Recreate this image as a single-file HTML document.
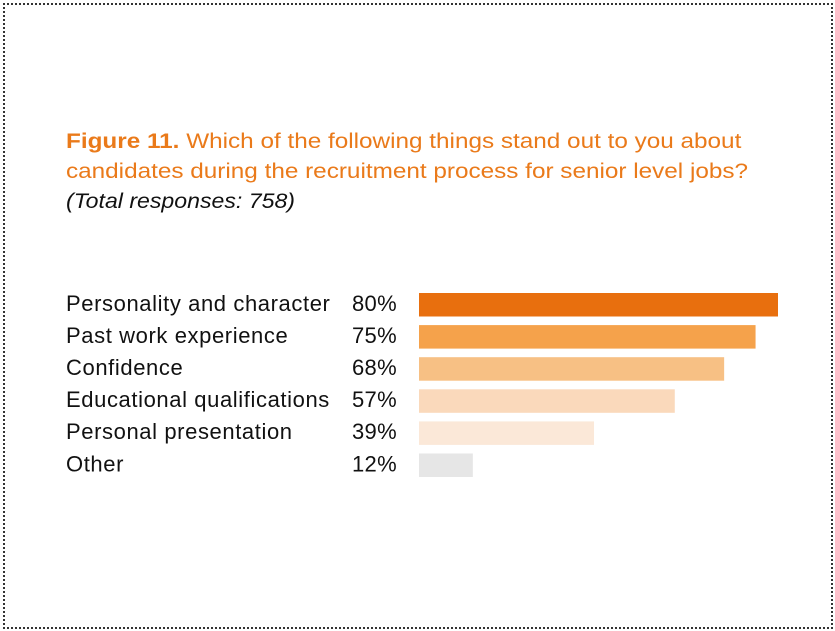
<!DOCTYPE html>
<html><head><meta charset="utf-8"><style>
body{margin:0;width:835px;height:631px;background:#fff;font-family:"Liberation Sans",sans-serif;overflow:hidden}
#frame{position:absolute;left:3px;top:3px;width:826px;height:622px;border:2px dotted #333}
.t{position:absolute;left:66px;font-size:21px;color:#ea7a1a;line-height:30px;transform-origin:0 0;transform:scaleX(1.157);white-space:nowrap}
</style></head><body>
<div id="frame"></div>
<div class="t" style="top:127px"><b>Figure 11.</b> Which of the following things stand out to you about<br>candidates during the recruitment process for senior level jobs?</div>
<div class="t" style="top:187px;color:#111;font-style:italic;transform:scaleX(1.1)">(Total responses: 758)</div>
<svg id="chart" width="835" height="631" style="position:absolute;left:0;top:0"></svg>
<script>
const categories=["Personality and character","Past work experience","Confidence","Educational qualifications","Personal presentation","Other"];
const values=[80,75,68,57,39,12];
const valueLabels=["80%","75%","68%","57%","39%","12%"];
const colors=["#e86f0e","#f5a24b","#f7c084","#fad9bb","#fbe8d8","#e6e6e6"];
const svg=document.getElementById('chart');const NS="http://www.w3.org/2000/svg";
const x0=419,scale=359/80,top0=293,pitch=32.1,bh=23.5;
const xs=v=>v*scale, ys=i=>top0+i*pitch;
categories.forEach((c,i)=>{
 const y=ys(i);
 const r=document.createElementNS(NS,'rect');
 r.setAttribute('x',x0);r.setAttribute('y',y);r.setAttribute('width',xs(values[i]));r.setAttribute('height',bh);r.setAttribute('fill',colors[i]);
 
 
 svg.appendChild(r);
 const t=document.createElementNS(NS,'text');
 t.setAttribute('x',66);t.setAttribute('y',y+bh/2+6);t.setAttribute('font-size','22');t.setAttribute('letter-spacing','0.6');t.setAttribute('fill','#111');t.textContent=c;
 
 
 svg.appendChild(t);
 const p=document.createElementNS(NS,'text');
 p.setAttribute('x',352);p.setAttribute('y',y+bh/2+6);p.setAttribute('font-size','22');p.setAttribute('letter-spacing','0.3');p.setAttribute('fill','#111');p.textContent=valueLabels[i];
 
 
 svg.appendChild(p);
});
</script>
</body></html>
